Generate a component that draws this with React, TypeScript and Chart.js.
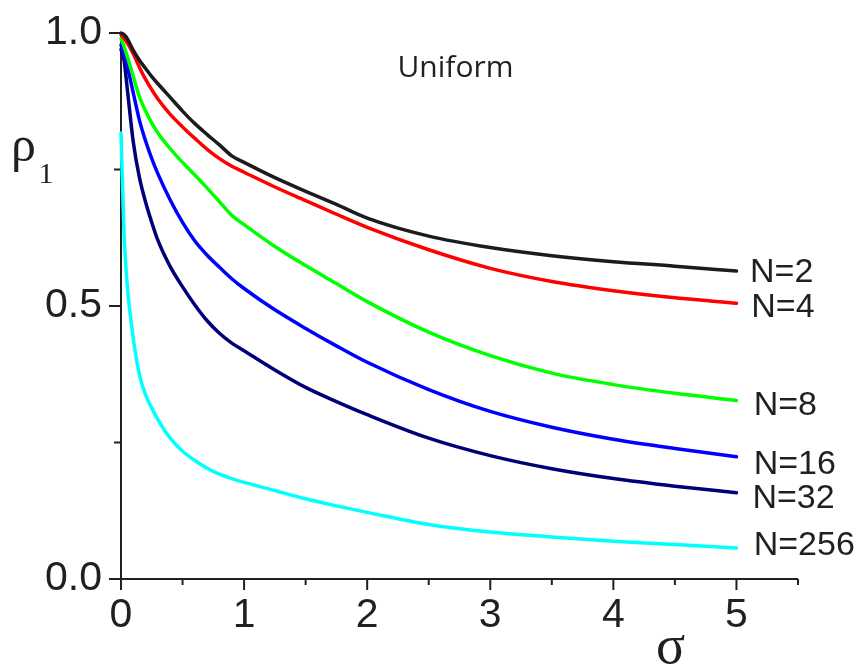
import { useEffect, useRef } from "react";
import { Chart, registerables } from "chart.js";

Chart.register(...registerables);

// Noise width σ (shared abscissa for every curve)
const sigma = [0, 0.025, 0.05, 0.1, 0.15, 0.2, 0.25, 0.3, 0.4, 0.5, 0.6, 0.7, 0.8, 0.9, 1.0, 1.25, 1.5, 1.75, 2.0, 2.5, 3.0, 3.5, 4.0, 4.5, 5.0];

// Correlation coefficient ρ1 for each network size N
const rhoN2 = [1.0, 0.997, 0.99, 0.968, 0.95, 0.935, 0.92, 0.907, 0.882, 0.857, 0.834, 0.814, 0.795, 0.775, 0.763, 0.735, 0.71, 0.686, 0.661, 0.628, 0.607, 0.592, 0.581, 0.573, 0.564];
const rhoN4 = [0.997, 0.99, 0.982, 0.962, 0.937, 0.915, 0.896, 0.879, 0.851, 0.828, 0.807, 0.787, 0.77, 0.756, 0.745, 0.718, 0.693, 0.668, 0.644, 0.603, 0.569, 0.545, 0.528, 0.515, 0.505];
const rhoN8 = [0.99, 0.975, 0.958, 0.92, 0.883, 0.857, 0.835, 0.817, 0.788, 0.763, 0.74, 0.716, 0.691, 0.666, 0.649, 0.609, 0.574, 0.541, 0.508, 0.452, 0.409, 0.377, 0.356, 0.34, 0.327];
const rhoN16 = [0.978, 0.96, 0.94, 0.89, 0.84, 0.802, 0.77, 0.742, 0.694, 0.653, 0.619, 0.593, 0.571, 0.55, 0.532, 0.493, 0.459, 0.427, 0.397, 0.347, 0.307, 0.278, 0.256, 0.239, 0.224];
const rhoN32 = [0.97, 0.95, 0.9, 0.8, 0.735, 0.69, 0.653, 0.62, 0.572, 0.535, 0.502, 0.473, 0.45, 0.432, 0.418, 0.383, 0.351, 0.325, 0.301, 0.258, 0.226, 0.202, 0.184, 0.17, 0.158];
const rhoN256 = [0.817, 0.63, 0.54, 0.44, 0.374, 0.337, 0.313, 0.292, 0.258, 0.234, 0.217, 0.203, 0.192, 0.184, 0.177, 0.162, 0.147, 0.134, 0.122, 0.1, 0.086, 0.077, 0.069, 0.063, 0.057];

const seriesLabels = ["N=2", "N=4", "N=8", "N=16", "N=32", "N=256"];
const seriesValues = [rhoN2, rhoN4, rhoN8, rhoN16, rhoN32, rhoN256];
const seriesColors = ["#1c1c1c", "#ff0000", "#00ff00", "#0000ff", "#000078", "#00ffff"];

// Where each curve's name sits, in data coordinates
const labelSigma = [5.11, 5.12, 5.14, 5.14, 5.13, 5.14];
const labelRho = [0.562, 0.497, 0.318, 0.21, 0.147, 0.061];

const xMajorTicks = [0, 1, 2, 3, 4, 5];
const yMajorTicks = [0, 0.5, 1.0];

const INK = "#231f20";

const axesPlugin = {
  id: "originAxes",
  beforeDatasetsDraw(chart: any) {
    const { ctx, chartArea: a, scales } = chart;
    const x = scales.x;
    const y = scales.y;
    ctx.save();
    ctx.strokeStyle = INK;
    ctx.lineWidth = 2;
    ctx.beginPath();
    ctx.moveTo(a.left, a.top);
    ctx.lineTo(a.left, a.bottom);
    ctx.lineTo(a.right, a.bottom);
    for (let v = 0; v <= 5.5 + 1e-9; v += 0.5) {
      const px = x.getPixelForValue(v);
      const len = xMajorTicks.includes(v) ? 11 : 6;
      ctx.moveTo(px, a.bottom);
      ctx.lineTo(px, a.bottom + len);
    }
    for (let v = 0; v <= 1 + 1e-9; v += 0.25) {
      const py = y.getPixelForValue(v);
      const len = yMajorTicks.includes(v) ? 12 : 7;
      ctx.moveTo(a.left, py);
      ctx.lineTo(a.left - len, py);
    }
    ctx.stroke();
    ctx.restore();
  },
  afterDatasetsDraw(chart: any) {
    const { ctx, scales } = chart;
    const x = scales.x;
    const y = scales.y;
    ctx.save();
    ctx.fillStyle = INK;
    ctx.textAlign = "left";
    ctx.textBaseline = "middle";
    ctx.font = "34px 'Liberation Sans', Arial, sans-serif";
    seriesLabels.forEach((name, i) => {
      ctx.fillText(name, x.getPixelForValue(labelSigma[i]), y.getPixelForValue(labelRho[i]));
    });

    ctx.textBaseline = "alphabetic";
    ctx.textAlign = "center";
    ctx.font = "30px 'Open Sans', sans-serif";
    ctx.fillText("Uniform", 455.5, 77);

    ctx.textAlign = "left";
    ctx.font = "50px 'Liberation Serif', 'Times New Roman', serif";
    ctx.fillText("ρ", 11, 161);
    ctx.font = "30px 'Liberation Serif', 'Times New Roman', serif";
    ctx.fillText("1", 38.5, 183);
    ctx.font = "54px 'Liberation Serif', 'Times New Roman', serif";
    ctx.fillText("σ", 656, 663);
    ctx.restore();
  },
};

export default function App() {
  const canvasRef = useRef<HTMLCanvasElement | null>(null);

  useEffect(() => {
    const canvas = canvasRef.current;
    if (!canvas) return;

    const datasets = seriesValues.map((vals, i) => ({
      label: seriesLabels[i],
      data: sigma.map((s, k) => ({ x: s, y: vals[k] })),
      borderColor: seriesColors[i],
      backgroundColor: seriesColors[i],
      borderWidth: 3.5,
      pointRadius: 0,
      cubicInterpolationMode: "monotone" as const,
      borderCapStyle: "round" as const,
      borderJoinStyle: "round" as const,
      clip: 6,
    }));

    const tickFont = { family: "'Liberation Sans', Arial, sans-serif", size: 41 };

    const chart = new Chart(canvas, {
      type: "line",
      data: { datasets },
      plugins: [axesPlugin],
      options: {
        animation: false,
        responsive: false,
        devicePixelRatio: 1,
        layout: { padding: { top: 33, right: 63, left: 0, bottom: 0 } },
        plugins: {
          legend: { display: false },
          tooltip: { enabled: false },
          title: { display: false },
        },
        scales: {
          x: {
            type: "linear",
            min: 0,
            max: 5.5,
            border: { display: false },
            grid: { display: false, drawTicks: false, tickLength: 0 },
            ticks: {
              stepSize: 0.5,
              autoSkip: false,
              maxRotation: 0,
              padding: 12,
              color: INK,
              font: tickFont,
              callback: (v: any) => (xMajorTicks.includes(Number(v)) ? String(v) : ""),
            },
            afterFit: (scale: any) => {
              scale.height = 89;
              scale.paddingLeft = 0;
              scale.paddingRight = 0;
            },
          },
          y: {
            type: "linear",
            min: 0,
            max: 1,
            border: { display: false },
            grid: { display: false, drawTicks: false, tickLength: 0 },
            ticks: {
              stepSize: 0.25,
              autoSkip: false,
              padding: 19,
              color: INK,
              font: tickFont,
              callback: (v: any) => (yMajorTicks.includes(Number(v)) ? Number(v).toFixed(1) : ""),
            },
            afterFit: (scale: any) => {
              scale.width = 121;
              scale.paddingTop = 0;
              scale.paddingBottom = 0;
            },
          },
        },
      },
    });

    return () => chart.destroy();
  }, []);

  return (
    <div style={{ position: "absolute", left: 0, top: 0, width: 861, height: 668, background: "#fff" }}>
      <canvas ref={canvasRef} width={861} height={668} style={{ display: "block" }} />
    </div>
  );
}
